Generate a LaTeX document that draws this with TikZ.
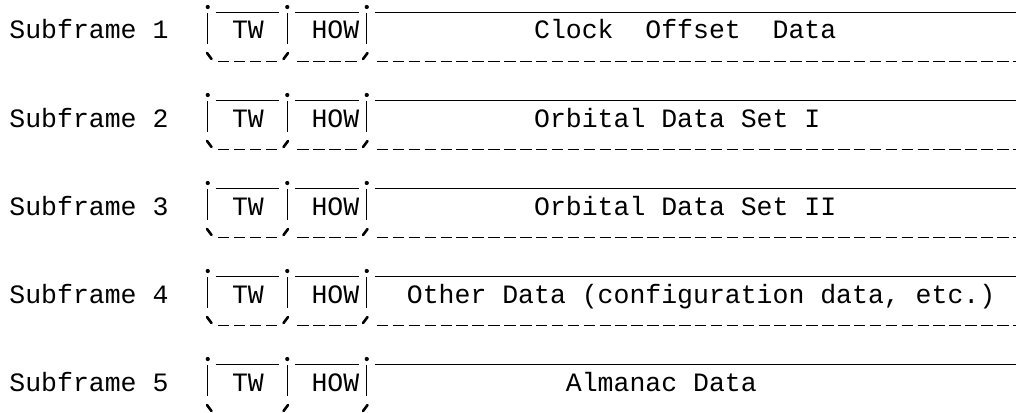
\documentclass[tikz,border=0pt]{standalone}
\usepackage{fontspec}
\setmonofont{Liberation Mono}

\begin{document}
\begin{tikzpicture}[x=0.5pt,y=-0.5pt,
    lbl/.style={font=\ttfamily\fontsize{13.25}{16}\selectfont, inner sep=0pt, anchor=base west},
    rule/.style={line width=0.65pt},
    dashrule/.style={line width=0.6pt, dash pattern=on 5.75pt off 2.2pt},
    tick/.style={line width=1.3pt, line cap=round}]
    \useasboundingbox (0,0) rectangle (1016,412);
    \clip (0,0) rectangle (1016,412);

    \foreach \txt/\col [count=\n] in {{Clock\ \ Offset\ \ Data}/33,
        {Orbital Data Set I}/33, {Orbital Data Set II}/33,
        {Other Data (configuration data, etc.)}/25, {Almanac Data}/35}
    {
        \pgfmathsetmacro\yy{88*(\n-1)}
        % top row: dots and underscores
        \foreach \c in {12,17,22}
            \fill ({9+15.9*(\c+0.5)},{7+\yy}) circle (2.1);
        \draw[rule] (215.7,{12.5+\yy}) -- (279.3,{12.5+\yy});
        \draw[rule] (295.2,{12.5+\yy}) -- (358.8,{12.5+\yy});
        \draw[rule] (374.7,{12.5+\yy}) -- (1016,{12.5+\yy});
        % bars
        \foreach \c in {12,17,22}
            \draw[rule] ({9+15.9*(\c+0.5)},{13+\yy}) -- ({9+15.9*(\c+0.5)},{44+\yy});
        % bottom row
        \draw[tick] (207,{53+\yy}) -- (211.5,{59+\yy});
        \draw[tick] (288,{53+\yy}) -- (283.5,{59+\yy});
        \draw[tick] (367.5,{53+\yy}) -- (363,{59+\yy});
        \ifnum\n<5
            \draw[dashrule] (217.9,{61.5+\yy}) -- (279.3,{61.5+\yy});
            \draw[dashrule] (297.4,{61.5+\yy}) -- (358.8,{61.5+\yy});
            \draw[dashrule] (376.9,{61.5+\yy}) -- (1016,{61.5+\yy});
        \fi
        % texts
        \node[lbl] (sub\n) at (9,{39+\yy}) {Subframe \n};
        \node[lbl] (tw\n) at (231.6,{39+\yy}) {TW};
        \node[lbl] (how\n) at (311.1,{39+\yy}) {HOW};
        \node[lbl] (data\n) at ({9+15.9*\col},{39+\yy}) {\txt};
    }
\end{tikzpicture}
\end{document}
